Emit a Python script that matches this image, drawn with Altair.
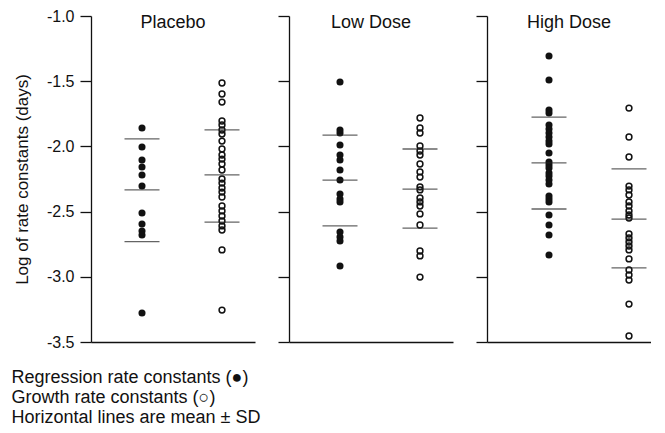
import altair as alt
import pandas as pd

FONT = "Liberation Sans"

panels = ["Placebo", "Low Dose", "High Dose"]
kinds = ["Regression", "Growth"]
kind_pos = [1, 2]
y_ticks = [-1.0, -1.5, -2.0, -2.5, -3.0, -3.5]

# Individual log rate constants
placebo_regression = [-1.859, -2.005, -2.104, -2.158, -2.219, -2.304, -2.511,
                      -2.595, -2.649, -2.679, -3.278]
placebo_growth = [-1.514, -1.598, -1.660, -1.805, -1.836, -1.874, -1.905, -1.959,
                  -2.020, -2.066, -2.097, -2.135, -2.181, -2.250, -2.281, -2.319,
                  -2.350, -2.388, -2.457, -2.495, -2.534, -2.572, -2.610, -2.641,
                  -2.794, -3.255]
low_regression = [-1.506, -1.874, -1.897, -1.989, -2.066, -2.104, -2.181, -2.258,
                  -2.365, -2.403, -2.426, -2.656, -2.695, -2.725, -2.917]
low_growth = [-1.782, -1.859, -1.897, -1.997, -2.035, -2.066, -2.135, -2.196,
              -2.235, -2.311, -2.334, -2.396, -2.426, -2.457, -2.518, -2.603,
              -2.802, -2.840, -3.002]
high_regression = [-1.307, -1.491, -1.721, -1.744, -1.836, -1.867, -1.897, -1.928,
                   -1.959, -1.982, -2.051, -2.120, -2.143, -2.166, -2.204, -2.227,
                   -2.258, -2.288, -2.380, -2.403, -2.426, -2.526, -2.603, -2.679,
                   -2.833]
high_growth = [-1.706, -1.928, -2.081, -2.304, -2.334, -2.373, -2.426, -2.457,
               -2.495, -2.526, -2.549, -2.672, -2.702, -2.733, -2.764, -2.794,
               -2.863, -2.948, -2.986, -3.025, -3.209, -3.454]

# Horizontal lines: mean - SD, mean, mean + SD
placebo_regression_lines = [-2.731, -2.334, -1.943]
placebo_growth_lines = [-2.580, -2.219, -1.874]
low_regression_lines = [-2.610, -2.258, -1.913]
low_growth_lines = [-2.626, -2.327, -2.020]
high_regression_lines = [-2.480, -2.127, -1.775]
high_growth_lines = [-2.932, -2.557, -2.173]

point_sets = {
    "Placebo": [placebo_regression, placebo_growth],
    "Low Dose": [low_regression, low_growth],
    "High Dose": [high_regression, high_growth],
}
line_sets = {
    "Placebo": [placebo_regression_lines, placebo_growth_lines],
    "Low Dose": [low_regression_lines, low_growth_lines],
    "High Dose": [high_regression_lines, high_growth_lines],
}

pt_rows, ln_rows = [], []
for p in panels:
    for k, pos, vals in zip(kinds, kind_pos, point_sets[p]):
        for v in vals:
            pt_rows.append({"panel": p, "kind": k, "pos": pos, "value": v})
    for k, pos, vals in zip(kinds, kind_pos, line_sets[p]):
        for v in vals:
            ln_rows.append({"panel": p, "kind": k, "pos": pos, "value": v})
points = pd.DataFrame(pt_rows)
lines = pd.DataFrame(ln_rows)

W, H = 164, 326
x_domain_start = {"Placebo": 0.3625, "Low Dose": 0.3625, "High Dose": 0.225}


def make_panel(name, first):
    pts = points[points.panel == name]
    lns = lines[lines.panel == name]
    if first:
        yax = alt.Axis(values=y_ticks, title="Log of rate constants (days)",
                       labelExpr="replace(format(datum.value, '.1f'), '\u2212', '-')")
    else:
        yax = alt.Axis(values=y_ticks, labels=False, title=None)
    y = alt.Y("value:Q", scale=alt.Scale(domain=[-3.5, -1.0], nice=False, zero=False),
              axis=yax)
    d0 = x_domain_start[name]
    x = alt.X("pos:Q", scale=alt.Scale(domain=[d0, d0 + W / 80], nice=False, zero=False),
              axis=alt.Axis(labels=False, ticks=False, title=None, grid=False))
    filled = alt.Chart(pts[pts.kind == "Regression"]).mark_point(
        shape="circle", filled=True, size=50, color="#111111", opacity=1
    ).encode(x=x, y=y)
    hollow = alt.Chart(pts[pts.kind == "Growth"]).mark_point(
        shape="circle", filled=False, size=34, color="#111111", strokeWidth=1.5,
        opacity=1
    ).encode(x=x, y=y)
    ticks = alt.Chart(lns).mark_tick(
        orient="horizontal", size=35, thickness=1.3, color="#222222"
    ).encode(x=x, y=y)
    title = alt.Chart(pd.DataFrame({"t": [name]})).mark_text(
        font=FONT, fontSize=18, color="#111111", baseline="middle", align="center"
    ).encode(text="t:N", x=alt.value(W / 2), y=alt.value(7))
    return alt.layer(hollow, filled, ticks, title).properties(width=W, height=H)


chart = alt.hconcat(
    *[make_panel(p, i == 0) for i, p in enumerate(panels)],
    spacing=34, bounds="flush",
).properties(
    title=alt.TitleParams(
        text=["Regression rate constants (\u25cf)",
              "Growth rate constants (\u25cb)",
              "Horizontal lines are mean \u00b1 SD"],
        orient="bottom", anchor="start", font=FONT, fontSize=18,
        fontWeight="normal", color="#111111", lineHeight=20, offset=19, dx=-2,
    ),
    padding={"left": 3, "right": 0, "top": 0, "bottom": 5},
    background="white",
).configure_view(stroke=None).configure_axis(
    domainColor="#111111", domainWidth=1.3, tickColor="#111111", tickSize=11,
    tickWidth=1.3, labelFont=FONT, labelFontSize=16, labelColor="#111111",
    labelPadding=6, titleFont=FONT, titleFontSize=17, titleFontWeight="normal",
    titleColor="#111111", titlePadding=15, grid=False,
)

chart.save("out.html", embed_options={"renderer": "svg", "actions": False})
